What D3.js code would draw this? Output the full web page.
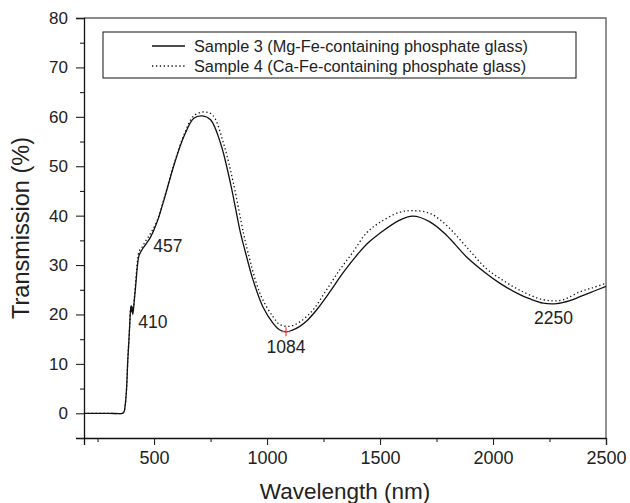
<!DOCTYPE html>
<html>
<head>
<meta charset="utf-8">
<script src="https://cdn.jsdelivr.net/npm/d3@7"></script>
<style>
  body { margin: 0; background: #fff; }
  svg { display: block; font-family: "Liberation Sans", Arial, sans-serif; }
</style>
</head>
<body>
<svg width="630" height="503"></svg>
<script>
  // wavelength (nm) / transmission (%)
  const wl3 = [190, 300, 360, 367, 372, 378, 384, 389, 393, 396, 399, 401, 403, 406, 412, 420, 428, 434, 448, 465, 485, 514, 544, 588, 632, 676, 713, 750, 794, 838, 883, 902, 938, 982, 1027, 1055, 1084, 1110, 1145, 1180, 1219, 1277, 1336, 1405, 1450, 1498, 1587, 1645, 1719, 1793, 1882, 1970, 2031, 2119, 2161, 2222, 2282, 2340, 2385, 2440, 2500];
  const tr3 = [0, 0, 0, 0.3, 1.5, 4.7, 11, 15, 18.5, 21, 21.8, 20.5, 21.5, 20.0, 22.5, 26.5, 30.5, 32, 33.2, 34.3, 35.7, 38.8, 43.2, 50.2, 56, 59.7, 60.2, 59.4, 54.7, 46.6, 36.4, 33, 27, 21.5, 18.2, 16.9, 16.5, 16.8, 17.6, 18.9, 20.9, 24.5, 28.4, 32.4, 34.6, 36.4, 39.1, 39.9, 38.8, 36.1, 31.7, 28.3, 26.3, 24.0, 23.2, 22.3, 22.2, 22.8, 23.6, 24.6, 25.7];

  const wl4 = [190, 300, 360, 367, 372, 378, 384, 389, 393, 396, 399, 401, 403, 406, 412, 420, 428, 434, 448, 463, 478, 492, 514, 544, 588, 632, 676, 723, 760, 807, 851, 896, 916, 953, 982, 1027, 1056, 1100, 1145, 1203, 1262, 1321, 1380, 1440, 1498, 1587, 1645, 1719, 1793, 1882, 1970, 2031, 2119, 2222, 2304, 2385, 2440, 2500];
  const tr4 = [0, 0, 0, 0.3, 1.5, 4.7, 11, 15, 18.5, 21, 21.8, 20.8, 21.6, 20.6, 23, 27.5, 31.3, 32.8, 33.7, 34.9, 35.9, 37.0, 39.0, 43.4, 50.4, 56.3, 60.2, 61.0, 60.3, 54.7, 46.6, 36.4, 32.5, 26.3, 22.9, 19.5, 18.0, 17.6, 18.5, 20.9, 24.9, 29, 32.6, 36.5, 38.6, 40.7, 41.0, 40.5, 38.1, 33.7, 29.3, 27.3, 24.9, 23.0, 22.9, 24.6, 25.4, 26.3];

  const seriesNames = ["Sample 3 (Mg-Fe-containing phosphate glass)", "Sample 4 (Ca-Fe-containing phosphate glass)"];
  const xTicks = [500, 1000, 1500, 2000, 2500];
  const xMinor = [250, 750, 1250, 1750, 2250];
  const yTicks = [0, 10, 20, 30, 40, 50, 60, 70, 80];
  const yMinor = [-5, 5, 15, 25, 35, 45, 55, 65, 75];

  // peak / band labels: text, wavelength, transmission of the point
  const annLabels = ["410", "457", "1084", "2250"];
  const annWl = [408, 457, 1084, 2250];
  const annTr = [20.5, 33.8, 16.5, 22.3];

  const svg = d3.select("svg");
  const margin = { top: 18, right: 24, bottom: 65, left: 84 };
  const W = 630, H = 503;

  const x = d3.scaleLinear().domain([190, 2500]).range([margin.left, W - margin.right]);
  const y = d3.scaleLinear().domain([-5, 80]).range([H - margin.bottom, margin.top]);

  // frame top/right (gray)
  svg.append("path")
    .attr("d", `M${x(190)},${y(80)}H${x(2500)}V${y(-5)}`)
    .attr("fill", "none").attr("stroke", "#666").attr("stroke-width", 1.4);

  // x axis
  const gx = svg.append("g").attr("transform", `translate(0,${y(-5)})`)
    .call(d3.axisBottom(x).tickValues(xTicks).tickSize(7).tickPadding(6).tickFormat(d3.format("d")));
  svg.append("g").attr("transform", `translate(0,${y(-5)})`)
    .call(d3.axisBottom(x).tickValues(xMinor).tickSize(4).tickFormat(""))
    .select(".domain").remove();
  gx.selectAll("text").style("font-size", "18px").attr("fill", "#222");

  // y axis
  const gy = svg.append("g").attr("transform", `translate(${x(190)},0)`)
    .call(d3.axisLeft(y).tickValues(yTicks).tickSize(8).tickPadding(8));
  svg.append("g").attr("transform", `translate(${x(190)},0)`)
    .call(d3.axisLeft(y).tickValues(yMinor).tickSize(4).tickFormat(""))
    .select(".domain").remove();
  gy.selectAll("text").style("font-size", "17px").attr("fill", "#222");

  svg.selectAll(".domain").attr("stroke", "#111").attr("stroke-width", 1.3);
  svg.selectAll(".tick line").attr("stroke", "#222").attr("stroke-width", 1.1);

  // curves
  const line = d3.line().x(d => x(d[0])).y(d => y(d[1])).curve(d3.curveCatmullRom.alpha(0.5));
  const s3 = wl3.map((w, i) => [w, tr3[i]]);
  const s4 = wl4.map((w, i) => [w, tr4[i]]);

  svg.append("path").datum(s4)
    .attr("fill", "none").attr("stroke", "#111").attr("stroke-width", 1.3)
    .attr("stroke-dasharray", "1.3,2.6").attr("d", line);
  svg.append("path").datum(s3)
    .attr("fill", "none").attr("stroke", "#111").attr("stroke-width", 1.3).attr("d", line);

  // red marker at the 1084 minimum
  const mx = x(1084), my = y(16.5);
  svg.append("path")
    .attr("d", `M${mx - 4.5},${my}H${mx + 4.5}M${mx},${my - 4.5}V${my + 4.5}`)
    .attr("stroke", "#e8413a").attr("stroke-width", 1.2);

  // annotations
  const annDx = [5, 9, 0, 4];
  const annDy = [16, 6, 21, 21];
  const annAnchor = ["start", "start", "middle", "middle"];
  annLabels.forEach((t, i) => {
    svg.append("text")
      .attr("x", x(annWl[i]) + annDx[i])
      .attr("y", y(annTr[i]) + annDy[i])
      .attr("text-anchor", annAnchor[i])
      .style("font-size", "17.5px").attr("fill", "#222")
      .text(t);
  });

  // legend
  const lg = svg.append("g");
  lg.append("rect").attr("x", 103).attr("y", 32).attr("width", 473).attr("height", 46)
    .attr("fill", "#fff").attr("stroke", "#111").attr("stroke-width", 1);
  seriesNames.forEach((name, i) => {
    const ly = 46 + i * 20;
    lg.append("line").attr("x1", 152).attr("x2", 185).attr("y1", ly).attr("y2", ly)
      .attr("stroke", "#111").attr("stroke-width", 1.3)
      .attr("stroke-dasharray", i === 1 ? "1.3,2.6" : null);
    lg.append("text").attr("x", 194).attr("y", ly + 6)
      .style("font-size", "16.3px").attr("fill", "#222").text(name);
  });

  // axis titles
  svg.append("text")
    .attr("x", (x(190) + x(2500)) / 2).attr("y", 499)
    .attr("text-anchor", "middle").style("font-size", "22.5px").attr("fill", "#222")
    .text("Wavelength (nm)");
  svg.append("text")
    .attr("transform", `translate(29,${(y(-5) + y(80)) / 2}) rotate(-90)`)
    .attr("text-anchor", "middle").style("font-size", "23.5px").attr("fill", "#222")
    .text("Transmission (%)");
</script>
</body>
</html>
